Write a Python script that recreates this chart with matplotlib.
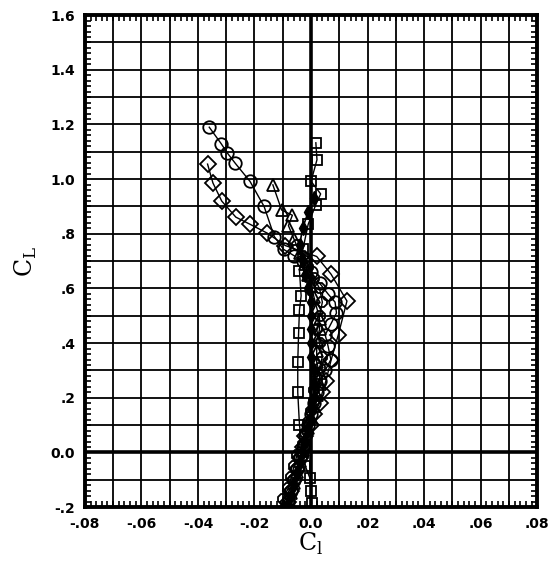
import numpy as np
import matplotlib.pyplot as plt
from matplotlib.ticker import MultipleLocator

# rolling moment coefficient vs lift coefficient, several configurations
circ_cl = [-0.18, -0.14, -0.10, -0.06, -0.02, 0.02, 0.06, 0.10, 0.14, 0.18, 0.22, 0.26,
           0.30, 0.34, 0.39, 0.43, 0.47, 0.51, 0.55, 0.58, 0.62, 0.66, 0.70, 0.72,
           0.743, 0.79, 0.90, 0.992, 1.058, 1.097, 1.13, 1.19]
circ_roll = [-0.008, -0.007, -0.006, -0.005, -0.004, -0.003, -0.002, -0.001, 0.000, 0.001,
             0.002, 0.003, 0.005, 0.007, 0.006, 0.005, 0.007, 0.009, 0.0085, 0.006, 0.003,
             0.000, -0.003, -0.006, -0.0097, -0.013, -0.0166, -0.0216, -0.0268, -0.0297,
             -0.0318, -0.036]

diam_cl = [-0.18, -0.14, -0.10, -0.06, -0.02, 0.02, 0.06, 0.10, 0.14, 0.18, 0.22, 0.26,
           0.338, 0.429, 0.554, 0.652, 0.717, 0.757, 0.802, 0.835, 0.861, 0.92, 0.986, 1.055]
diam_roll = [-0.008, -0.007, -0.006, -0.005, -0.004, -0.003, -0.002, 0.000, 0.001, 0.003,
             0.004, 0.0052, 0.0071, 0.0096, 0.0127, 0.0071, 0.002, -0.0091, -0.0154,
             -0.0216, -0.0266, -0.0316, -0.0347, -0.0366]

tri_cl = [-0.19, -0.15, -0.11, -0.07, -0.03, 0.01, 0.05, 0.09, 0.13, 0.17, 0.21, 0.25, 0.29,
          0.33, 0.37, 0.41, 0.45, 0.49, 0.53, 0.57, 0.61, 0.65, 0.69, 0.73, 0.78, 0.83,
          0.868, 0.887, 0.979]
tri_roll = [-0.009, -0.007, -0.006, -0.005, -0.004, -0.003, -0.002, -0.001, 0.000, 0.001,
            0.002, 0.003, 0.003, 0.002, 0.002, 0.002, 0.003, 0.003, 0.002, 0.001, 0.000,
            -0.001, -0.002, -0.004, -0.006, -0.008, -0.0066, -0.0104, -0.0135]

sq_cl = [-0.186, -0.14, -0.094, -0.05, 0.0, 0.102, 0.22, 0.331, 0.436, 0.521, 0.573, 0.665,
         0.743, 0.835, 0.907, 0.946, 0.992, 1.071, 1.133]
sq_roll = [0.0002, 0.000, -0.0004, -0.002, -0.003, -0.0041, -0.0047, -0.0047, -0.0044,
           -0.0041, -0.0035, -0.0041, -0.0029, -0.001, 0.0017, 0.0034, 0.0, 0.0021, 0.0017]

oct_cl = [-0.20, -0.17, -0.13, -0.09, -0.05, -0.01, 0.03, 0.07, 0.11, 0.15, 0.19, 0.23,
          0.27, 0.31, 0.35, 0.40, 0.45, 0.50, 0.55, 0.60, 0.64, 0.68, 0.72, 0.76]
oct_roll = [-0.009, -0.010, -0.008, -0.007, -0.006, -0.005, -0.003, -0.002, -0.001, 0.000,
            0.001, 0.001, 0.002, 0.003, 0.004, 0.003, 0.002, 0.003, 0.004, 0.003, 0.001,
            -0.001, -0.003, -0.005]

fill_cl = [-0.19, -0.16, -0.12, -0.08, -0.04, 0.0, 0.04, 0.08, 0.12, 0.16, 0.20, 0.25, 0.30,
           0.35, 0.40, 0.45, 0.50, 0.55, 0.60, 0.65, 0.70, 0.76, 0.82, 0.88, 0.93]
fill_roll = [-0.008, -0.007, -0.006, -0.005, -0.004, -0.003, -0.002, -0.001, 0.000, 0.000,
             0.001, 0.001, 0.001, 0.000, 0.000, 0.000, 0.000, 0.000, -0.001, -0.002,
             -0.003, -0.004, -0.003, -0.001, 0.001]

xticks = [-0.08, -0.06, -0.04, -0.02, 0.0, 0.02, 0.04, 0.06, 0.08]
xlabels = ["-.08", "-.06", "-.04", "-.02", "0.0", ".02", ".04", ".06", ".08"]
yticks = [-0.2, 0.0, 0.2, 0.4, 0.6, 0.8, 1.0, 1.2, 1.4, 1.6]
ylabels = ["-.2", "0.0", ".2", ".4", ".6", ".8", "1.0", "1.2", "1.4", "1.6"]

fig = plt.figure(figsize=(5.51, 5.61), dpi=100)
ax = fig.add_axes([0.154, 0.096, 0.821, 0.877])

# grid every 0.01 / 0.1
for gx in np.arange(-0.07, 0.0751, 0.01):
    ax.axvline(gx, color="black", lw=1.3 if abs(gx) > 1e-9 else 2.6, zorder=1)
for gy in np.arange(-0.1, 1.551, 0.1):
    ax.axhline(gy, color="black", lw=1.3 if abs(gy) > 1e-9 else 2.6, zorder=1)

mk = dict(color="black", lw=1.0, mfc="none", mew=1.3, zorder=3)
ax.plot(circ_roll, circ_cl, marker="o", ms=9, **mk)
ax.plot(diam_roll, diam_cl, marker="D", ms=8, **mk)
ax.plot(tri_roll, tri_cl, marker="^", ms=9, **mk)
ax.plot(sq_roll, sq_cl, marker="s", ms=7.5, **mk)
ax.plot(oct_roll, oct_cl, marker="8", ms=8, **mk)
ax.plot(fill_roll, fill_cl, marker="d", ms=7, color="black", lw=1.2, zorder=3)

ax.set_xlim(-0.08, 0.08)
ax.set_ylim(-0.2, 1.6)
ax.set_xticks(xticks)
ax.set_xticklabels(xlabels, fontweight="bold", fontsize=10)
ax.set_yticks(yticks)
ax.set_yticklabels(ylabels, fontweight="bold", fontsize=10)
ax.xaxis.set_minor_locator(MultipleLocator(0.002))
ax.yaxis.set_minor_locator(MultipleLocator(0.02))
ax.tick_params(which="major", length=0, pad=7)
ax.tick_params(which="minor", direction="in", length=4, width=1.2,
               top=True, right=True, bottom=True, left=True)
for s in ax.spines.values():
    s.set_linewidth(2.8)

ax.set_xlabel("C$_\\mathregular{l}$", fontsize=17, family="DejaVu Serif", labelpad=0)
ax.set_ylabel("C$_\\mathregular{L}$", fontsize=17, family="DejaVu Serif", labelpad=8)

fig.savefig("out.png", dpi=100)
